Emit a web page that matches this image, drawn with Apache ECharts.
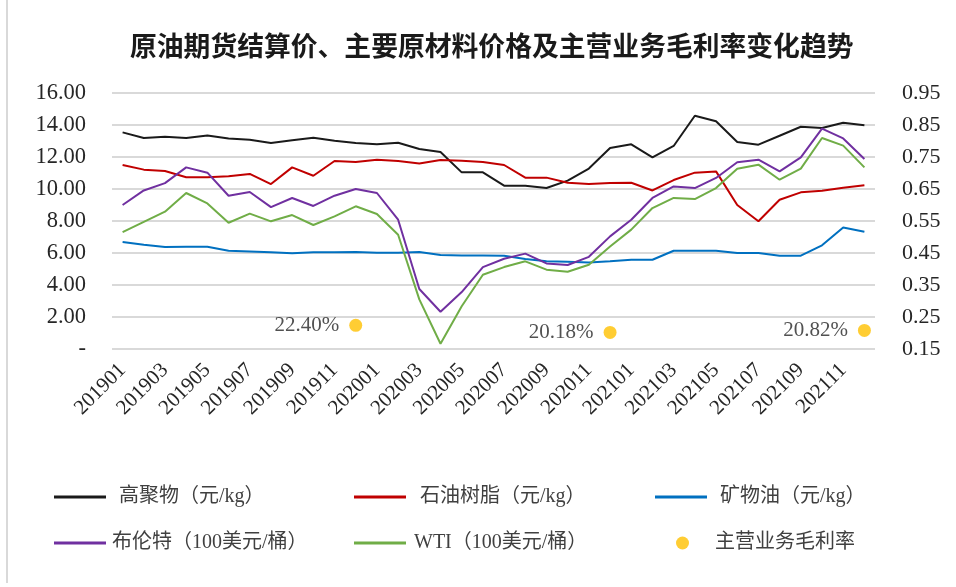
<!DOCTYPE html>
<html>
<head>
<meta charset="utf-8">
<script src="https://cdn.jsdelivr.net/npm/echarts@6/dist/echarts.min.js"></script>
<style>
  html, body { margin: 0; padding: 0; background: #fff; }
  #main { width: 956px; height: 587px; }
</style>
</head>
<body>
<div id="main"></div>
<script>
// 月份
var months = [
  '201901','201902','201903','201904','201905','201906','201907','201908','201909','201910','201911','201912',
  '202001','202002','202003','202004','202005','202006','202007','202008','202009','202010','202011','202012',
  '202101','202102','202103','202104','202105','202106','202107','202108','202109','202110','202111','202112'
];
// 高聚物（元/kg）
var polymer = [13.54,13.19,13.27,13.19,13.35,13.16,13.08,12.87,13.04,13.21,13.02,12.87,
  12.79,12.89,12.50,12.31,11.04,11.04,10.21,10.21,10.06,10.52,11.28,12.56,
  12.79,11.98,12.69,14.58,14.23,12.94,12.77,13.33,13.89,13.81,14.14,13.98];
// 石油树脂（元/kg）
var resin = [11.50,11.21,11.12,10.73,10.73,10.79,10.94,10.31,11.35,10.83,11.75,11.69,
  11.83,11.75,11.60,11.81,11.77,11.69,11.50,10.71,10.71,10.39,10.31,10.37,
  10.39,9.91,10.56,11.02,11.10,9.00,7.98,9.33,9.79,9.89,10.08,10.23];
// 矿物油（元/kg）
var mineral = [6.69,6.52,6.37,6.39,6.39,6.14,6.10,6.04,5.98,6.04,6.04,6.06,
  6.02,6.02,6.06,5.87,5.85,5.85,5.83,5.62,5.48,5.46,5.41,5.48,
  5.58,5.58,6.14,6.14,6.14,6.00,6.00,5.83,5.83,6.48,7.60,7.33];
// 布伦特（100美元/桶）
var brent = [9.00,9.91,10.37,11.35,11.02,9.58,9.81,8.87,9.44,8.94,9.58,10.00,
  9.75,8.08,3.75,2.33,3.56,5.12,5.64,5.96,5.35,5.25,5.76,7.04,
  8.08,9.44,10.16,10.06,10.69,11.67,11.83,11.10,11.98,13.77,13.16,11.87];
// WTI（100美元/桶）
var wti = [7.31,7.94,8.58,9.75,9.10,7.89,8.46,7.98,8.37,7.75,8.29,8.92,
  8.44,7.14,3.10,0.33,2.67,4.64,5.12,5.48,4.96,4.83,5.27,6.41,
  7.46,8.81,9.44,9.37,10.06,11.27,11.52,10.58,11.27,13.19,12.71,11.35];
// 主营业务毛利率
var marginMonths = ['201912', '202012', '202112'];
var marginValues = [0.2240, 0.2018, 0.2082];

var leftTicks = [0, 16, 2];
var rightTicks = [0.15, 0.95, 0.1];

var serif = '"Liberation Serif", "Noto Sans CJK SC", serif';
var gridColor = '#d9d9d9';

var myChart = echarts.init(document.getElementById('main'));

function lineSeries(name, data, color) {
  return {
    name: name,
    type: 'line',
    data: data,
    symbol: 'none',
    lineStyle: { color: color, width: 2 },
    itemStyle: { color: color },
    z: 3
  };
}

function legendAt(name, left, top, icon, w, h, pad) {
  return {
    data: [name],
    left: left,
    top: top,
    icon: icon,
    itemWidth: w,
    itemHeight: h,
    selectedMode: false,
    textStyle: { fontFamily: serif, fontSize: 20, color: '#404040', padding: [0, 0, 0, pad] }
  };
}

myChart.setOption({
  animation: false,
  backgroundColor: '#fff',
  title: {
    text: '原油期货结算价、主要原材料价格及主营业务毛利率变化趋势',
    left: 125,
    top: 27,
    textStyle: { fontFamily: '"Noto Sans CJK SC", sans-serif', fontSize: 26.8, fontWeight: 'bold', color: '#1a1a1a' }
  },
  graphic: [{
    type: 'rect',
    shape: { x: 6, y: 0, width: 2, height: 583 },
    style: { fill: '#d9d9d9' }
  }],
  legend: [
    legendAt('高聚物（元/kg）', 49, 482, 'rect', 52, 3, 8),
    legendAt('石油树脂（元/kg）', 349, 482, 'rect', 52, 3, 9),
    legendAt('矿物油（元/kg）', 650, 482, 'rect', 52, 3, 8),
    legendAt('布伦特（100美元/桶）', 49, 528, 'rect', 52, 3, 1),
    legendAt('WTI（100美元/桶）', 349, 528, 'rect', 52, 3, 3),
    legendAt('主营业务毛利率', 671, 528, 'circle', 13, 13, 21)
  ],
  grid: { left: 112, right: 81, top: 93, height: 256 },
  xAxis: {
    type: 'category',
    data: months,
    boundaryGap: true,
    axisLine: { show: false },
    axisTick: { show: false },
    axisLabel: {
      interval: 1,
      rotate: 45,
      margin: 18,
      fontFamily: serif,
      fontSize: 21,
      color: '#262626'
    }
  },
  yAxis: [{
    type: 'value',
    min: leftTicks[0],
    max: leftTicks[1],
    interval: leftTicks[2],
    axisLine: { show: false },
    axisTick: { show: false },
    splitLine: { lineStyle: { color: gridColor, width: 2 } },
    axisLabel: {
      margin: 26,
      fontFamily: serif,
      fontSize: 22.5,
      color: '#262626',
      formatter: function (v) { return v === 0 ? '-' : v.toFixed(2); }
    }
  }, {
    type: 'value',
    min: rightTicks[0],
    max: rightTicks[1],
    interval: rightTicks[2],
    axisLine: { show: false },
    axisTick: { show: false },
    splitLine: { show: false },
    axisLabel: {
      margin: 27,
      fontFamily: serif,
      fontSize: 22,
      color: '#262626',
      formatter: function (v) { return v.toFixed(2); }
    }
  }],
  series: [
    lineSeries('高聚物（元/kg）', polymer, '#1a1a1a'),
    lineSeries('石油树脂（元/kg）', resin, '#c00000'),
    lineSeries('矿物油（元/kg）', mineral, '#0070c0'),
    lineSeries('布伦特（100美元/桶）', brent, '#7030a0'),
    lineSeries('WTI（100美元/桶）', wti, '#70ad47'),
    {
      name: '主营业务毛利率',
      type: 'scatter',
      yAxisIndex: 1,
      symbolSize: 13,
      itemStyle: { color: '#ffc000' },
      data: marginMonths.map(function (m, i) { return [m, marginValues[i]]; }),
      label: {
        show: true,
        position: 'left',
        distance: 10,
        fontFamily: serif,
        fontSize: 21,
        color: '#262626',
        formatter: function (p) { return (p.value[1] * 100).toFixed(2) + '%'; }
      },
      z: 4
    }
  ]
});
</script>
</body>
</html>
